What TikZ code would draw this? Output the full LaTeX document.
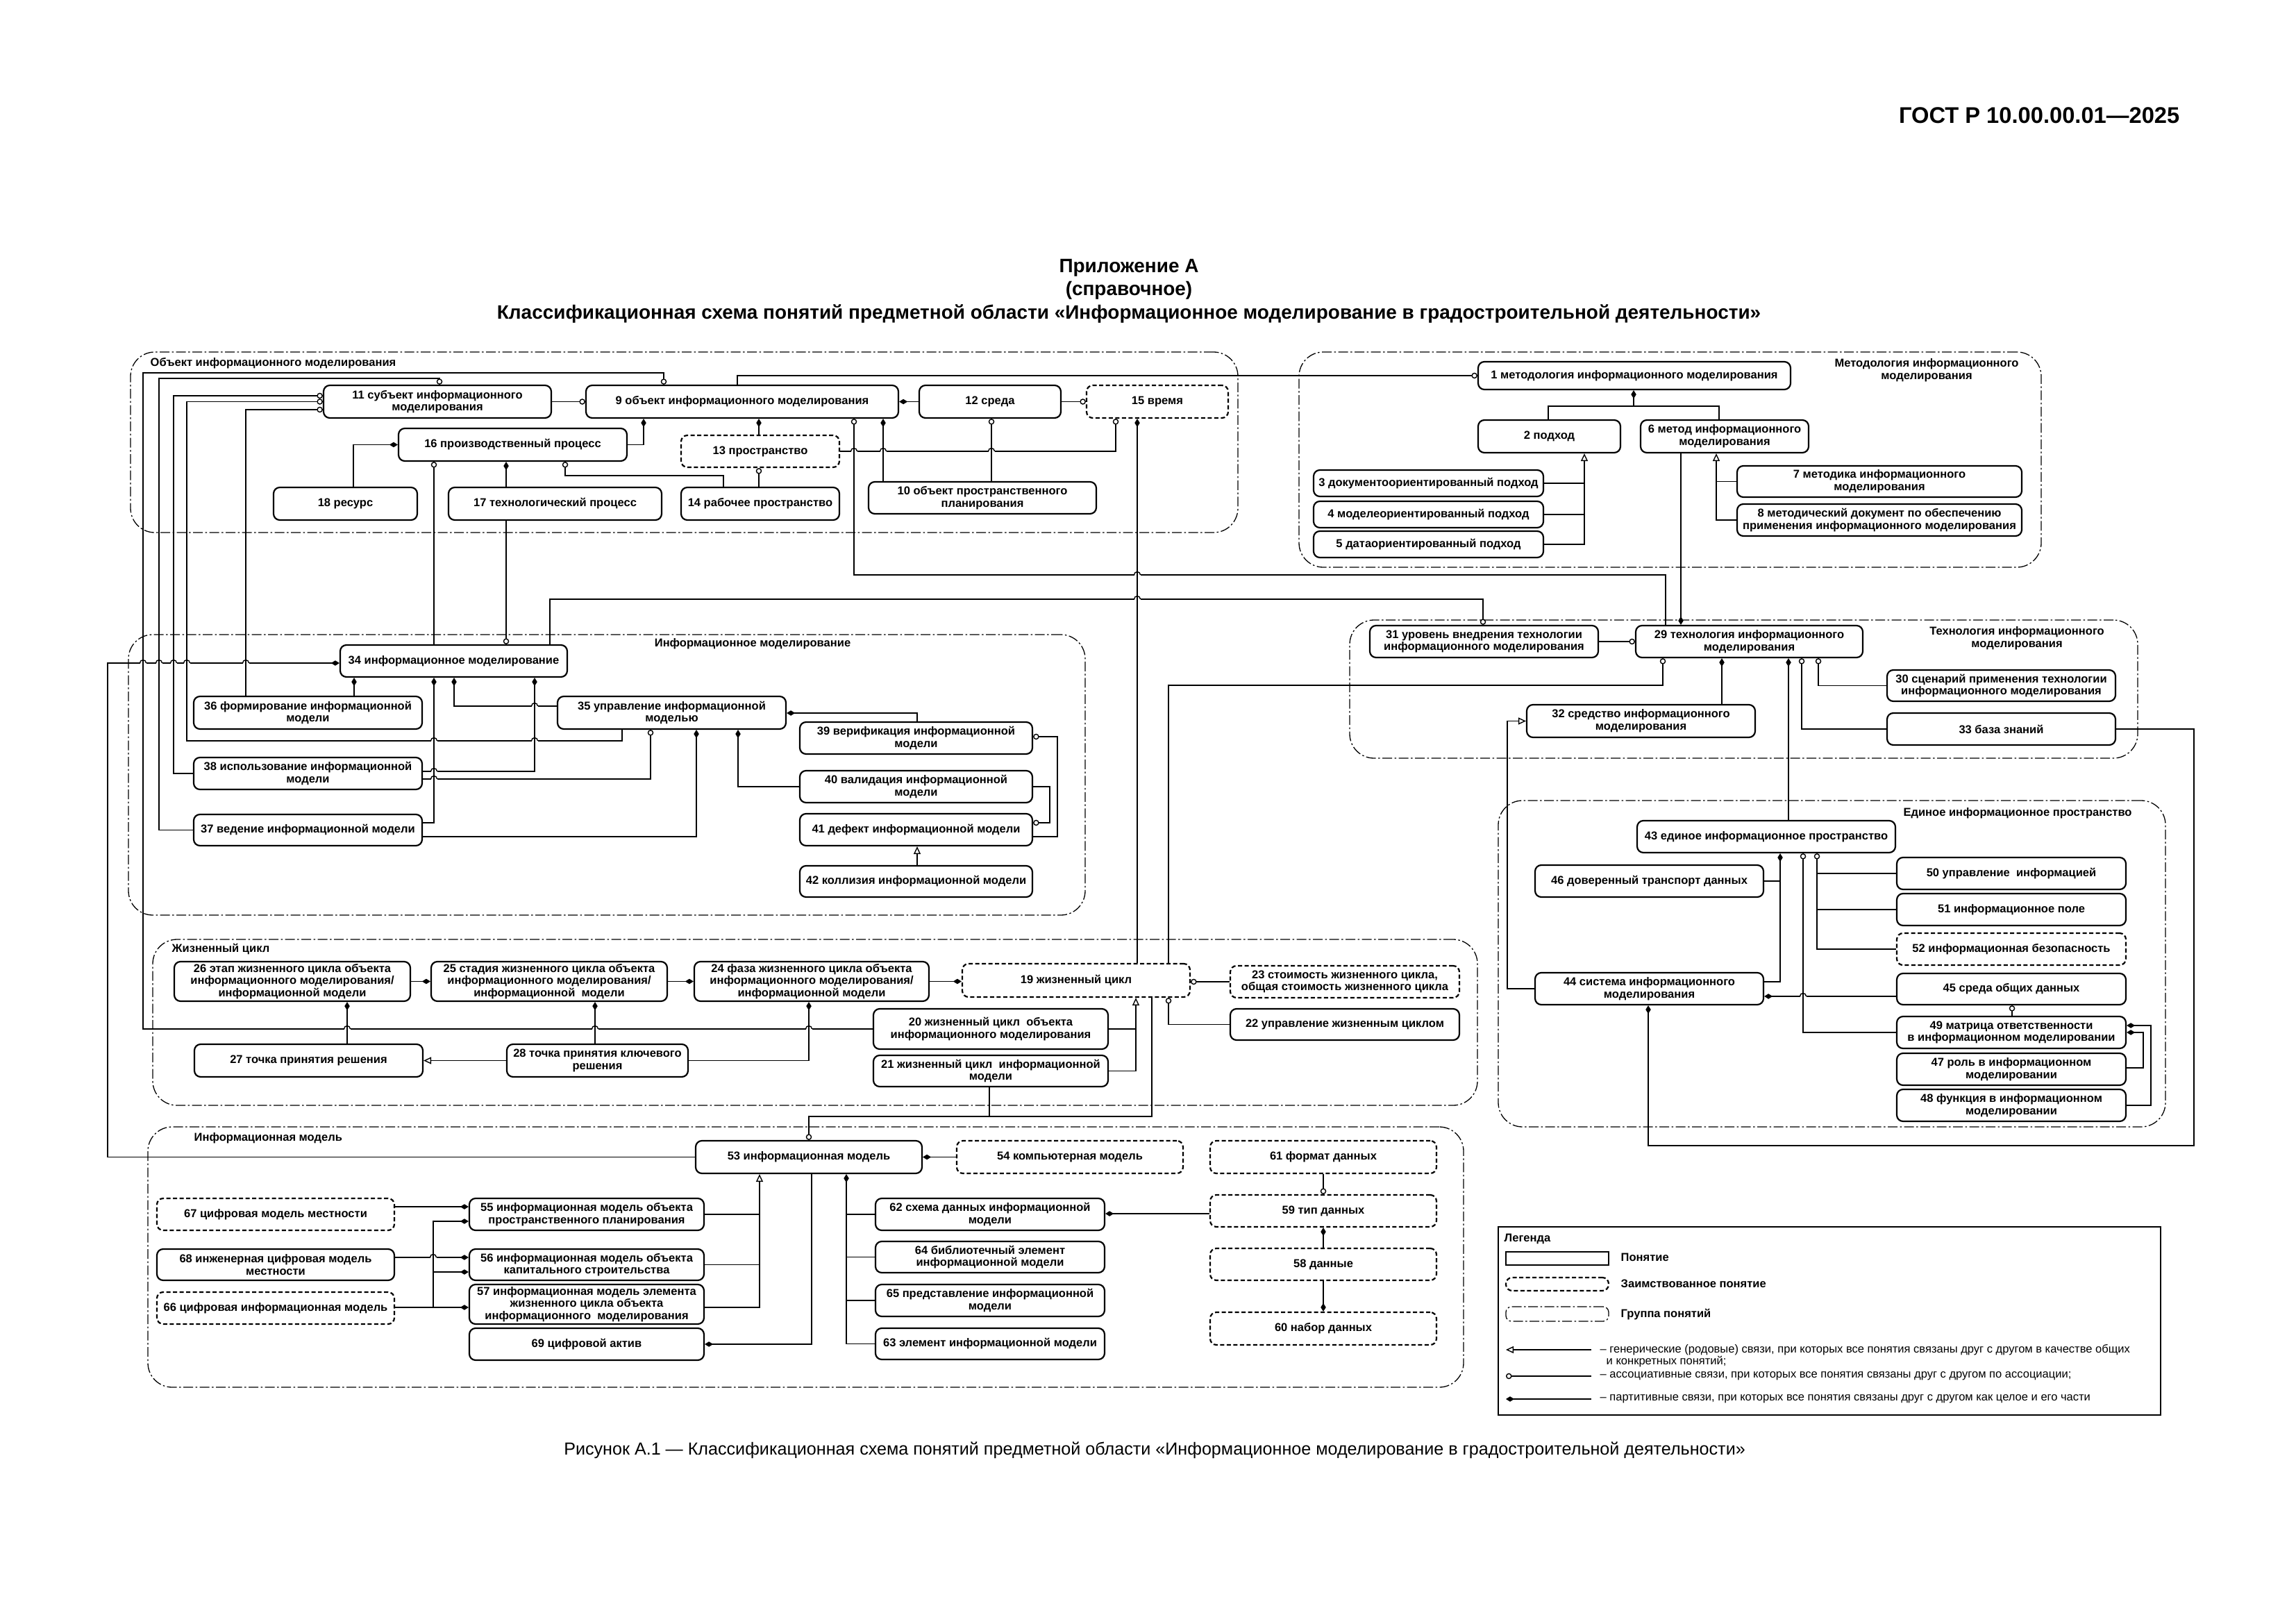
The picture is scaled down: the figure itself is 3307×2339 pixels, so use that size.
\documentclass[tikz,border=0pt]{standalone}
\usepackage{fontspec}
\setmainfont{Liberation Sans}
\usetikzlibrary{arrows.meta}
\newcommand\ndfont{\bfseries\fontsize{4.7}{5.0}\selectfont}
\newcommand\lgfont{\fontsize{4.7}{5.0}\selectfont}
\newcommand\hop[2]{%
  \fill[white] (#1-4.5,#2-2) rectangle (#1+4.5,#2+2);
  \draw[conn] (#1,#2-6) -- (#1,#2+6);
  \draw[conn] (#1-4.5,#2) arc[start angle=180,end angle=0,radius=0.45mm];}
\tikzset{
  cpt/.style={draw, line width=0.22mm, rounded corners=0.9mm, fill=white, align=center, inner sep=0.3mm, font=\ndfont},
  brw/.style={cpt, dash pattern=on 0.6mm off 0.35mm},
  wh/.style 2 args={minimum width=#1*0.1mm, minimum height=#2*0.1mm},
  conn/.style={line width=0.14mm},
  asc/.style={conn, -{Circle[open, length=0.85mm, width=0.85mm]}},
  prt/.style={conn, -{Diamond[length=1.2mm, width=0.75mm]}},
  genl/.style={conn, -{Triangle[open, length=1.1mm, width=1.0mm]}},
  grp/.style={draw, line width=0.13mm, rounded corners=3.5mm, dash pattern=on 1.4mm off 0.35mm on 0.25mm off 0.35mm, inner sep=0pt},
  gtitle/.style={font=\ndfont, align=center, inner sep=0pt},
}
\begin{document}
\begin{tikzpicture}[x=0.1mm,y=-0.1mm]
\useasboundingbox (0,0) rectangle (3307,2339);

% header and titles
\node[font=\bfseries\fontsize{9.3}{11}\selectfont, anchor=east, inner sep=0pt] (hdr) at (3140,166) {ГОСТ Р 10.00.00.01—2025};
\node[font=\bfseries\fontsize{7.95}{9.6}\selectfont, inner sep=0pt] (ttl1) at (1626,386) {Приложение А};
\node[font=\bfseries\fontsize{7.95}{9.6}\selectfont, inner sep=0pt] (ttl2) at (1626,418) {(справочное)};
\node[font=\bfseries\fontsize{7.95}{9.6}\selectfont, inner sep=0pt] (ttl3) at (1626,452) {Классификационная схема понятий предметной области «Информационное моделирование в градостроительной деятельности»};
\node[font=\fontsize{7.15}{9}\selectfont, inner sep=0pt] (cap) at (1663,2089) {Рисунок А.1 — Классификационная схема понятий предметной области «Информационное моделирование в градостроительной деятельности»};

% groups
\node[grp, wh={1595}{260}] (g1) at (985.5,637) {};
\node[grp, wh={1069}{310}] (g2) at (2405.5,662) {};
\node[grp, wh={1378}{404}] (g3) at (874,1116) {};
\node[grp, wh={1135}{199}] (g4) at (2511.5,992.5) {};
\node[grp, wh={961}{470}] (g5) at (2638.5,1388) {};
\node[grp, wh={1908}{239}] (g6) at (1174,1472.5) {};
\node[grp, wh={1895}{375}] (g7) at (1160.5,1810.5) {};
\node[gtitle, anchor=west] (g1t) at (216,523) {Объект информационного моделирования};
\node[gtitle] (g2t) at (2775,533) {Методология информационного\\моделирования};
\node[gtitle] (g3t) at (1084,927) {Информационное моделирование};
\node[gtitle] (g4t) at (2905,919) {Технология информационного\\моделирования};
\node[gtitle] (g5t) at (2906,1171) {Единое информационное пространство};
\node[gtitle, anchor=west] (g6t) at (247,1367) {Жизненный цикл};
\node[gtitle, anchor=west] (g7t) at (279,1639) {Информационная модель};

% group 1
\node[cpt, wh={328}{47}] (n11) at (630,578.5) {11 субъект информационного\\моделирования};
\node[cpt, wh={450}{47}] (n9) at (1069,578.5) {9 объект информационного моделирования};
\node[cpt, wh={204}{47}] (n12) at (1426,578.5) {12 среда};
\node[brw, wh={204}{47}] (n15) at (1667,578.5) {15 время};
\node[cpt, wh={329}{47}] (n16) at (738.5,640.5) {16 производственный процесс};
\node[brw, wh={228}{46}] (n13) at (1095,650) {13 пространство};
\node[cpt, wh={207}{47}] (n18) at (497.5,725.5) {18 ресурс};
\node[cpt, wh={307}{47}] (n17) at (799.5,725.5) {17 технологический процесс};
\node[cpt, wh={228}{47}] (n14) at (1095,725.5) {14 рабочее пространство};
\node[cpt, wh={328}{46}] (n10) at (1415,717) {10 объект пространственного\\планирования};

% group 2
\node[cpt, wh={450}{40}] (n1) at (2354,541) {1 методология информационного моделирования};
\node[cpt, wh={205}{47}] (n2) at (2231.5,628.5) {2 подход};
\node[cpt, wh={242}{47}] (n6) at (2484,628.5) {6 метод информационного\\моделирования};
\node[cpt, wh={331}{38}] (n3) at (2057.5,696) {3 документоориентированный подход};
\node[cpt, wh={331}{38}] (n4) at (2057.5,741) {4 моделеориентированный подход};
\node[cpt, wh={331}{38}] (n5) at (2057.5,784) {5 датаориентированный подход};
\node[cpt, wh={410}{45}] (n7) at (2707,693.5) {7 методика информационного\\моделирования};
\node[cpt, wh={410}{46}] (n8) at (2707,749) {8 методический документ по обеспечению\\применения информационного моделирования};

% group 3
\node[cpt, wh={327}{46}] (n34) at (653.5,952) {34 информационное моделирование};
\node[cpt, wh={329}{47}] (n36) at (443.5,1026.5) {36 формирование информационной\\модели};
\node[cpt, wh={329}{47}] (n35) at (967.5,1026.5) {35 управление информационной\\моделью};
\node[cpt, wh={329}{46}] (n38) at (443.5,1114) {38 использование информационной\\модели};
\node[cpt, wh={329}{45}] (n37) at (443.5,1195.5) {37 ведение информационной модели};
\node[cpt, wh={335}{46}] (n39) at (1319.5,1063) {39 верификация информационной\\модели};
\node[cpt, wh={335}{46}] (n40) at (1319.5,1133) {40 валидация информационной\\модели};
\node[cpt, wh={335}{46}] (n41) at (1319.5,1195) {41 дефект информационной модели};
\node[cpt, wh={335}{45}] (n42) at (1319.5,1269.5) {42 коллизия информационной модели};

% group 4
\node[cpt, wh={329}{46}] (n31) at (2137.5,924) {31 уровень внедрения технологии\\информационного моделирования};
\node[cpt, wh={327}{46}] (n29) at (2519.5,924) {29 технология информационного\\моделирования};
\node[cpt, wh={329}{45}] (n30) at (2882.5,987.5) {30 сценарий применения технологии\\информационного моделирования};
\node[cpt, wh={329}{46}] (n33) at (2882.5,1050) {33 база знаний};
\node[cpt, wh={329}{47}] (n32) at (2363.5,1038.5) {32 средство информационного\\моделирования};

% group 5
\node[cpt, wh={372}{46}] (n43) at (2544,1205) {43 единое информационное пространство};
\node[cpt, wh={329}{46}] (n46) at (2375.5,1269) {46 доверенный транспорт данных};
\node[cpt, wh={329}{46}] (n44) at (2375.5,1424) {44 система информационного\\моделирования};
\node[cpt, wh={330}{46}] (n50) at (2897,1258) {50 управление\ \ информацией};
\node[cpt, wh={330}{46}] (n51) at (2897,1310) {51 информационное поле};
\node[brw, wh={330}{46}] (n52) at (2897,1367) {52 информационная безопасность};
\node[cpt, wh={330}{45}] (n45) at (2897,1424.5) {45 среда общих данных};
\node[cpt, wh={330}{46}] (n49) at (2897,1487) {49 матрица ответственности\\в информационном моделировании};
\node[cpt, wh={330}{46}] (n47) at (2897,1540) {47 роль в информационном\\моделировании};
\node[cpt, wh={330}{46}] (n48) at (2897,1592) {48 функция в информационном\\моделировании};

% group 6
\node[cpt, wh={340}{57}] (n26) at (421,1413.5) {26 этап жизненного цикла объекта\\информационного моделирования/\\информационной модели};
\node[cpt, wh={340}{57}] (n25) at (791,1413.5) {25 стадия жизненного цикла объекта\\информационного моделирования/\\информационной\ \ модели};
\node[cpt, wh={338}{57}] (n24) at (1169,1413.5) {24 фаза жизненного цикла объекта\\информационного моделирования/\\информационной модели};
\node[brw, wh={328}{48}] (n19) at (1550,1412) {19 жизненный цикл};
\node[brw, wh={330}{46}] (n23) at (1937,1414) {23 стоимость жизненного цикла,\\общая стоимость жизненного цикла};
\node[cpt, wh={330}{45}] (n22) at (1937,1475.5) {22 управление жизненным циклом};
\node[cpt, wh={338}{58}] (n20) at (1427,1482) {20 жизненный цикл\ \ объекта\\информационного моделирования};
\node[cpt, wh={338}{45}] (n21) at (1427,1542.5) {21 жизненный цикл\ \ информационной\\модели};
\node[cpt, wh={329}{47}] (n27) at (444.5,1527.5) {27 точка принятия решения};
\node[cpt, wh={261}{47}] (n28) at (860.5,1527.5) {28 точка принятия ключевого\\решения};

% group 7
\node[cpt, wh={326}{47}] (n53) at (1165,1666.5) {53 информационная модель};
\node[brw, wh={326}{47}] (n54) at (1541,1666.5) {54 компьютерная модель};
\node[brw, wh={326}{47}] (n61) at (1906,1666.5) {61 формат данных};
\node[brw, wh={326}{46}] (n59) at (1906,1744) {59 тип данных};
\node[brw, wh={326}{46}] (n58) at (1906,1821) {58 данные};
\node[brw, wh={326}{47}] (n60) at (1906,1913.5) {60 набор данных};
\node[cpt, wh={330}{46}] (n62) at (1426,1749) {62 схема данных информационной\\модели};
\node[cpt, wh={330}{45}] (n64) at (1426,1810.5) {64 библиотечный элемент\\информационной модели};
\node[cpt, wh={330}{46}] (n65) at (1426,1873) {65 представление информационной\\модели};
\node[cpt, wh={330}{45}] (n63) at (1426,1935.5) {63 элемент информационной модели};
\node[cpt, wh={338}{46}] (n55) at (845,1749) {55 информационная модель объекта\\пространственного планирования};
\node[cpt, wh={338}{45}] (n56) at (845,1821.5) {56 информационная модель объекта\\капитального строительства};
\node[cpt, wh={338}{57}] (n57) at (845,1878.5) {57 информационная модель элемента\\жизненного цикла объекта\\информационного\ \ моделирования};
\node[cpt, wh={338}{46}] (n69) at (845,1936) {69 цифровой актив};
\node[brw, wh={342}{46}] (n67) at (397,1749) {67 цифровая модель местности};
\node[cpt, wh={342}{45}] (n68) at (397,1821.5) {68 инженерная цифровая модель\\местности};
\node[brw, wh={342}{46}] (n66) at (397,1884) {66 цифровая информационная модель};

% legend
\node[draw, line width=0.2mm, wh={954}{271}, inner sep=0pt] (lg) at (2635,1902.5) {};
\node[font=\ndfont, anchor=west, inner sep=0pt] (lgt) at (2166,1784) {Легенда};
\node[draw, line width=0.25mm, wh={148}{19}, inner sep=0pt] (lgc) at (2243,1812.5) {};
\node[font=\ndfont, anchor=west, inner sep=0pt] (lgct) at (2334,1811) {Понятие};
\node[brw, wh={148}{19}, inner sep=0pt] (lgb) at (2243,1849.5) {};
\node[font=\ndfont, anchor=west, inner sep=0pt] (lgbt) at (2334,1849) {Заимствованное понятие};
\node[grp, wh={148}{21}, rounded corners=0.8mm] (lgg) at (2243,1892.5) {};
\node[font=\ndfont, anchor=west, inner sep=0pt] (lggt) at (2334,1893) {Группа понятий};
\coordinate (la1) at (2292,1944); \coordinate (la2) at (2169,1944);
\coordinate (lb1) at (2292,1982); \coordinate (lb2) at (2169,1982);
\coordinate (lc1) at (2292,2015); \coordinate (lc2) at (2169,2015);
\draw[genl] (la1) -- (la2);
\draw[asc] (lb1) -- (lb2);
\draw[prt] (lc1) -- (lc2);
\node[font=\lgfont, anchor=west, inner sep=0pt] (lat) at (2304,1944) {– генерические (родовые) связи, при которых все понятия связаны друг с другом в качестве общих};
\node[font=\lgfont, anchor=west, inner sep=0pt] (lat2) at (2313,1961) {и конкретных понятий;};
\node[font=\lgfont, anchor=west, inner sep=0pt] (lbt) at (2304,1982) {– ассоциативные связи, при которых все понятия связаны друг с другом по ассоциации;};
\node[font=\lgfont, anchor=west, inner sep=0pt] (lct) at (2304,2015) {– партитивные связи, при которых все понятия связаны друг с другом как целое и его части};

% ===== connectors =====
% group 1
\draw[asc] (n11.east) -- (n9.west);
\draw[prt] (n12.west) -- (n9.east);
\draw[asc] (n12.east) -- (n15.west);
\draw[prt] (n16.east) -| (927,0|-n9.south);
\draw[prt] (509,0|-n18.north) |- (n16.west);
\draw[prt] (729,0|-n17.north) -- (729,0|-n16.south);
\draw[asc] (1042,0|-n14.north) |- (814,685) -- (814,0|-n16.south);
\draw[prt] (1093,0|-n13.north) -- (1093,0|-n9.south);
\draw[asc] (1093,0|-n14.north) -- (1093,0|-n13.south);
\draw[prt] (1272,0|-n10.north) -- (1272,0|-n9.south);
\draw[asc] (1428,0|-n10.north) -- (1428,0|-n12.south);
\draw[asc] (n13.east) -| (1607,0|-n15.south);
% group 2
\draw[prt] (2230,0|-n2.north) |- (2353,585) -- (2353,0|-n1.south);
\draw[conn] (2476,0|-n6.north) |- (2353,585);
\draw[genl] (n5.east) -| (2282,0|-n2.south);
\draw[conn] (n3.east) -- (2282,0|-n3.east);
\draw[conn] (n4.east) -- (2282,0|-n4.east);
\draw[genl] (n8.west) -| (2472,0|-n6.south);
\draw[conn] (n7.west) -- (2472,0|-n7.west);
\draw[prt] (2421,0|-n6.south) -- (2421,0|-n29.north);
% cross links
\draw[asc] (1062,0|-n9.north) |- (n1.west);
\draw[asc] (n20.west) -| (206,537) -| (956,0|-n9.north);
\draw[asc] (n37.west) -| (229,545) -| (633,0|-n11.north);
\draw[asc] (n38.west) -| (250,570) -- (n11.west|-0,570);
\draw[asc] (896,0|-n35.south) |- (269,1067) |- (n11.west);
\draw[asc] (354,0|-n36.north) |- (n11.west|-0,590);
\draw[asc] (625,0|-n34.north) -- (625,0|-n16.south);
\draw[asc] (729,0|-n17.south) -- (729,0|-n34.north);
\draw[asc] (2399,0|-n29.north) |- (1230,828) -- (1230,0|-n9.south);
\draw[asc] (792,0|-n34.north) |- (2136,863) -- (2136,0|-n31.north);
\draw[asc] (1683,0|-n19.north) |- (2395,987) -- (2395,0|-n29.south);
\draw[prt] (1638,0|-n19.north) -- (1638,0|-n15.south);
\draw[prt] (n53.west) -| (155,955) -- (n34.west|-0,955);
\draw[asc] (1659,0|-n19.south) |- (1165,1608) -- (1165,0|-n53.north);
\draw[conn] (1425,0|-n21.south) -- (1425,1608);
% group 3
\draw[prt] (510,0|-n36.north) -- (510,0|-n34.south);
\draw[prt] (n37.east|-0,1185) -| (625,0|-n34.south);
\draw[prt] (n38.east|-0,1111) -| (770,0|-n34.south);
\draw[asc] (n38.east|-0,1122) -| (937,0|-n35.south);
\draw[prt] (n35.west|-0,1017) -| (654,0|-n34.south);
\draw[prt] (n37.east|-0,1205) -| (1003,0|-n35.south);
\draw[prt] (n40.west) -| (1063,0|-n35.south);
\draw[prt] (1321,0|-n39.north) |- (n35.east|-0,1027);
\draw[asc] (n41.east|-0,1205) -| (1523,1061) -- (n39.east|-0,1061);
\draw[asc] (n40.east) -| (1512,1185) -- (n41.east|-0,1185);
\draw[genl] (1321,0|-n42.north) -- (1321,0|-n41.south);
% group 4
\draw[asc] (n31.east) -- (n29.west);
\draw[prt] (2480,0|-n32.north) -- (2480,0|-n29.south);
\draw[prt] (2576,0|-n43.north) -- (2576,0|-n29.south);
\draw[asc] (n30.west) -| (2619,0|-n29.south);
\draw[asc] (n33.west) -| (2595,0|-n29.south);
\draw[prt] (n33.east) -| (3160,1650) -| (2374,0|-n44.south);
\draw[genl] (n44.west) -| (2171,0|-n32.west) -- (n32.west);
% group 5
\draw[prt] (n46.east) -| (2564,0|-n43.south);
\draw[conn] (n44.east|-0,1414) -| (2564,0|-n46.east);
\draw[asc] (n52.west) -| (2617,0|-n43.south);
\draw[conn] (n50.west) -- (2617,0|-n50.west);
\draw[conn] (n51.west) -- (2617,0|-n51.west);
\draw[asc] (n49.west) -| (2597,0|-n43.south);
\draw[prt] (n45.west|-0,1435) -- (n44.east|-0,1435);
\draw[asc] (2898,0|-n49.north) -- (2898,0|-n45.south);
\draw[prt] (n47.east|-0,1538) -| (3087,1487) -- (n49.east|-0,1487);
\draw[prt] (n48.east) -| (3098,1477) -- (n49.east|-0,1477);
% group 6
\draw[prt] (n26.east) -- (n25.west);
\draw[prt] (n25.east) -- (n24.west);
\draw[prt] (n24.east) -- (n19.west|-n24.east);
\draw[genl] (n28.west) -- (n27.east);
\draw[prt] (500,0|-n27.north) -- (500,0|-n26.south);
\draw[prt] (857,0|-n28.north) -- (857,0|-n25.south);
\draw[prt] (n28.east) -| (1165,0|-n24.south);
\draw[asc] (n23.west) -- (n19.east|-n23.west);
\draw[asc] (n22.west) -| (1683,0|-n19.south);
\draw[genl] (n21.east) -| (1636,0|-n19.south);
\draw[conn] (n20.east) -- (1636,0|-n20.east);
% group 7
\draw[prt] (n54.west) -- (n53.east);
\draw[prt] (1169,0|-n53.south) |- (n69.east);
\draw[prt] (n63.west) -| (1219,0|-n53.south);
\draw[conn] (n62.west) -- (1219,0|-n62.west);
\draw[conn] (n64.west) -- (1219,0|-n64.west);
\draw[conn] (n65.west) -- (1219,0|-n65.west);
\draw[genl] (n57.east|-0,1883) -| (1094,0|-n53.south);
\draw[conn] (n55.east) -- (1094,0|-n55.east);
\draw[conn] (n56.east) -- (1094,0|-n56.east);
\draw[asc] (n61.south) -- (n59.north);
\draw[prt] (n59.west|-0,1748) -- (n62.east|-0,1748);
\draw[prt] (n58.north) -- (n59.south);
\draw[prt] (n58.south) -- (n60.north);
\draw[prt] (n67.east|-0,1738) -- (n55.west|-0,1738);
\draw[prt] (n68.east|-0,1811) -- (n56.west|-0,1811);
\draw[prt] (n66.east|-0,1883) -- (n57.west|-0,1883);
\draw[prt] (624,1883) |- (n55.west|-0,1759);
\draw[prt] (624,1832) -- (n56.west|-0,1832);

% hops
\hop{1230}{650}\hop{1272}{650}\hop{1428}{650}
\hop{1638}{828}\hop{1638}{863}
\hop{206}{955}\hop{229}{955}\hop{250}{955}\hop{269}{955}\hop{354}{955}
\hop{770}{1017}\hop{770}{1067}\hop{625}{1067}\hop{625}{1111}\hop{625}{1122}
\hop{500}{1482}\hop{857}{1482}\hop{1165}{1482}
\hop{2597}{1435}\hop{624}{1811}
\end{tikzpicture}
\end{document}
